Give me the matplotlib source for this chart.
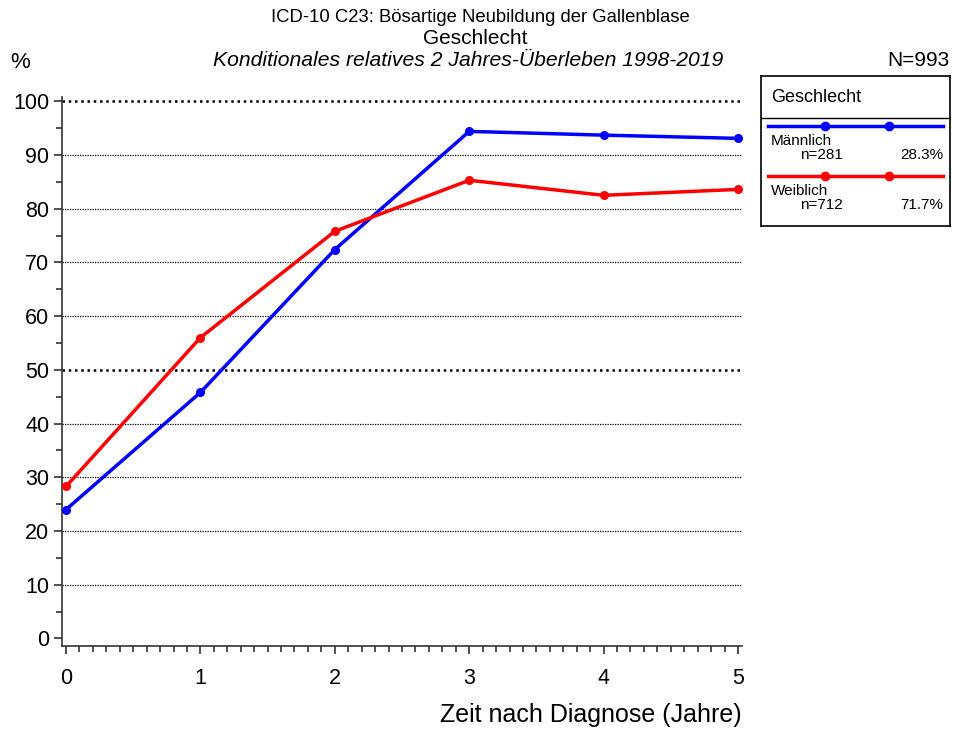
import matplotlib.pyplot as plt
import numpy as np

plt.rcParams['font.family'] = ['Liberation Sans', 'DejaVu Sans']

# Daten
jahre = [0, 1, 2, 3, 4, 5]
maennlich = [24.0, 45.8, 72.4, 94.4, 93.7, 93.1]
weiblich = [28.3, 56.0, 75.8, 85.3, 82.5, 83.6]
gruppen = ['Männlich', 'Weiblich']
fallzahlen = ['n=281', 'n=712']
anteile = ['28.3%', '71.7%']
farben = ['#0000ff', '#ff0000']

W, H = 954, 731
fig = plt.figure(figsize=(W / 100, H / 100), dpi=100)

# Hauptachse
ax = fig.add_axes([62 / W, 1 - 646 / H, 680 / W, 549 / H])
for werte, farbe in zip([maennlich, weiblich], farben):
    ax.plot(jahre, werte, color=farbe, lw=2.5, marker='o', ms=5.5, zorder=3)

ax.set_xlim(-0.03, 5.03)
ax.set_ylim(-1.4, 100.8)
ax.set_xticks(jahre)
ax.set_xticks(np.arange(0, 5.01, 0.1), minor=True)
ax.set_yticks(np.arange(0, 101, 10))
ax.set_yticks(np.arange(5, 100, 10), minor=True)
ax.tick_params(axis='both', which='major', labelsize=15.5, length=6, width=1.2, color='#333333')
ax.tick_params(axis='both', which='minor', length=4, width=1.2, color='#333333')
ax.tick_params(axis='x', pad=10)
ax.tick_params(axis='y', pad=3)
ax.spines['top'].set_visible(False)
ax.spines['right'].set_visible(False)
ax.spines['left'].set_color('#333333')
ax.spines['bottom'].set_color('#333333')
ax.spines['left'].set_linewidth(1.2)
ax.spines['bottom'].set_linewidth(1.2)

# Gitterlinien
for y in range(10, 101, 10):
    dick = y in (50, 100)
    ax.axhline(y, color='black', lw=1.8 if dick else 0.9,
               ls=(0, (1, 1.5)) if dick else (0, (1, 1)), zorder=1)

# Titel
fig.text(480 / W, 1 - 17 / H, 'ICD-10 C23: Bösartige Neubildung der Gallenblase',
         ha='center', va='center', fontsize=13.3)
fig.text(475 / W, 1 - 39 / H, 'Geschlecht', ha='center', va='center', fontsize=15)
fig.text(468 / W, 1 - 61 / H, 'Konditionales relatives 2 Jahres-Überleben 1998-2019',
         ha='center', va='center', fontsize=15.2, style='italic')
fig.text(10 / W, 1 - 62 / H, '%', ha='left', va='center', fontsize=16)
fig.text(950 / W, 1 - 61 / H, 'N=993', ha='right', va='center', fontsize=15)
fig.text(742 / W, 1 - 715 / H, 'Zeit nach Diagnose (Jahre)', ha='right', va='center', fontsize=18)

# Legende (eigene Achse in Pixelkoordinaten)
lx0, lx1, ly0, ly1 = 761, 950, 76, 226
lg = fig.add_axes([lx0 / W, 1 - ly1 / H, (lx1 - lx0) / W, (ly1 - ly0) / H])
lg.set_xlim(lx0, lx1)
lg.set_ylim(ly1, ly0)
lg.set_xticks([])
lg.set_yticks([])
for s in lg.spines.values():
    s.set_linewidth(1.2)
lg.axhline(118, color='black', lw=1)
lg.text(771, 97, 'Geschlecht', ha='left', va='center', fontsize=13)
for i, (name, n, anteil, farbe) in enumerate(zip(gruppen, fallzahlen, anteile, farben)):
    y0 = 126 + i * 50
    lg.plot([768, 943], [y0, y0], color=farbe, lw=2.5)
    lg.plot([825, 889], [y0, y0], 'o', color=farbe, ms=6)
    lg.text(771, y0 + 15, name, ha='left', va='center', fontsize=11)
    lg.text(800, y0 + 29, n, ha='left', va='center', fontsize=11)
    lg.text(943, y0 + 29, anteil, ha='right', va='center', fontsize=11)

fig.savefig('out.png', dpi=100)
